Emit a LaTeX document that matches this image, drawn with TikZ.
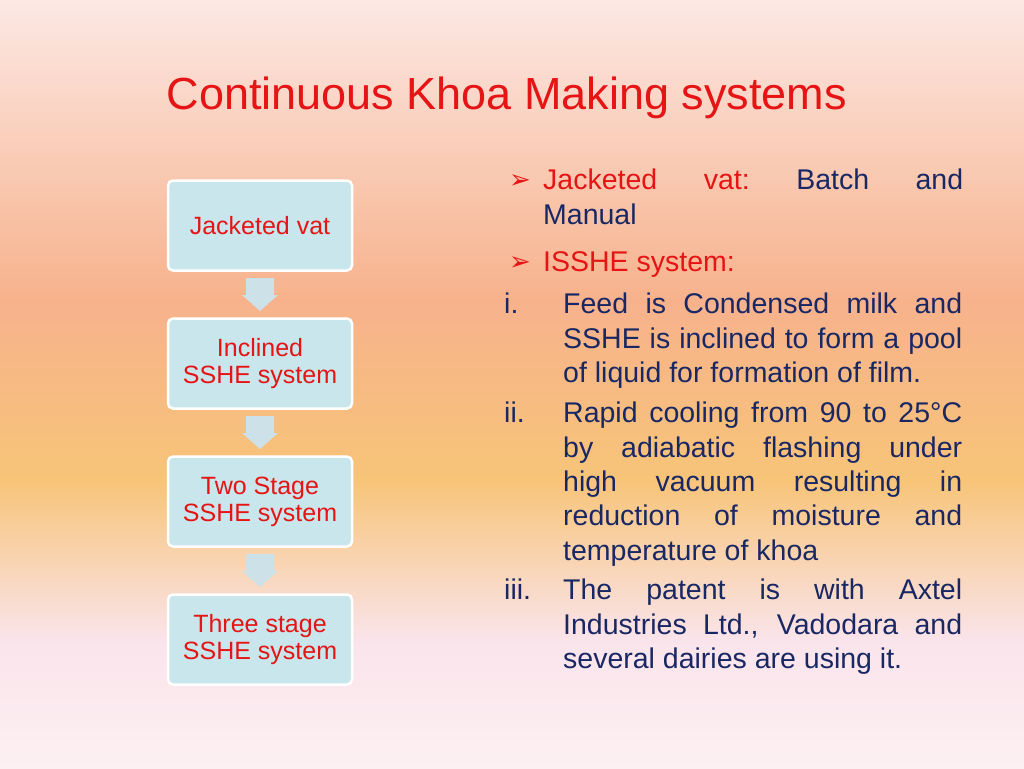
\documentclass[tikz,border=0pt]{standalone}
\usepackage{fontspec}
\setmainfont{Liberation Sans}
\newfontfamily\dejavu{DejaVu Sans}
\definecolor{tred}{RGB}{230,20,20}
\definecolor{tblue}{RGB}{25,40,100}
\definecolor{boxfill}{RGB}{200,230,236}
\definecolor{arrfill}{RGB}{205,225,232}
\definecolor{bgA}{RGB}{252,232,228}
\definecolor{bgB}{RGB}{247,178,140}
\definecolor{bgC}{RGB}{247,196,120}
\definecolor{bgD}{RGB}{250,228,235}
\definecolor{bgE}{RGB}{252,240,242}
\tikzset{
 stagebox/.style={draw=white,line width=2.5pt,fill=boxfill,rounded corners=5pt,minimum width=184pt,minimum height=90pt,align=center,text=tred,font=\fontsize{25}{27}\selectfont},
 downarr/.style={fill=arrfill,draw=none},
 bul/.style={text=tred,font=\dejavu\fontsize{26}{28}\selectfont},
 body/.style={anchor=north west,inner sep=0pt,text width=399pt,align=justify,font=\fontsize{28.5}{34.3}\selectfont,text=tblue},
 num/.style={anchor=north west,inner sep=0pt,font=\fontsize{28.5}{34.3}\selectfont,text=tblue},
}
\begin{document}
\begin{tikzpicture}[x=1pt,y=-1pt]
\useasboundingbox (0,0) rectangle (1024,768);
\shade[top color=bgA,bottom color=bgB] (0,0) rectangle (1024,300);
\shade[top color=bgB,bottom color=bgC] (0,299.5) rectangle (1024,480);
\shade[top color=bgC,bottom color=bgD] (0,479.5) rectangle (1024,640);
\shade[top color=bgD,bottom color=bgE] (0,639.5) rectangle (1024,768);
\node[anchor=west,text=tred,font=\fontsize{45}{48}\selectfont] (title) at (163,98) {Continuous Khoa Making systems};
\node[stagebox] (b1) at (260,225.5) {Jacketed vat};
\node[stagebox] (b2) at (260,363.5) {Inclined\\SSHE system};
\node[stagebox] (b3) at (260,501.5) {Two Stage\\SSHE system};
\node[stagebox] (b4) at (260,639.5) {Three stage\\SSHE system};
\foreach \yy/\nm in {278/a1,416/a2,554/a3}{
  \fill[downarr] (246,\yy) -- (274,\yy) -- (274,\yy+17) -- (278,\yy+17) -- (260,\yy+33) -- (242,\yy+17) -- (246,\yy+17) -- cycle;
  \coordinate (\nm) at (260,\yy+16);
}
\node[bul] (k1) at (520,182) {➢};
\node[bul] (k2) at (520,264) {➢};
\node[anchor=north west,inner sep=0pt,text width=420pt,align=justify,font=\fontsize{28.5}{35}\selectfont,text=tblue] (t1) at (543,169) {\textcolor{tred}{Jacketed\hfill vat:}\hfill Batch\hfill and\par Manual};
\node[anchor=north west,inner sep=0pt,font=\fontsize{28.5}{35}\selectfont,text=tred] (t2) at (543,251) {ISSHE system:};
\node[body] (t3) at (563,293) {\hyphenpenalty=10000 Feed is Condensed milk and\linebreak SSHE is inclined to form a pool\linebreak of liquid for formation of film.};
\node[body] (t4) at (563,402) {\hyphenpenalty=10000 Rapid cooling from 90 to 25°C\linebreak by adiabatic flashing under\linebreak high vacuum resulting in\linebreak reduction of moisture and\linebreak temperature of khoa};
\node[body] (t5) at (563,579) {\hyphenpenalty=10000 The patent is with Axtel\linebreak Industries Ltd., Vadodara and\linebreak several dairies are using it.};
\node[num] (n1) at (504,293) {i.};
\node[num] (n2) at (504,402) {ii.};
\node[num] (n3) at (504,579) {iii.};
\end{tikzpicture}
\end{document}
